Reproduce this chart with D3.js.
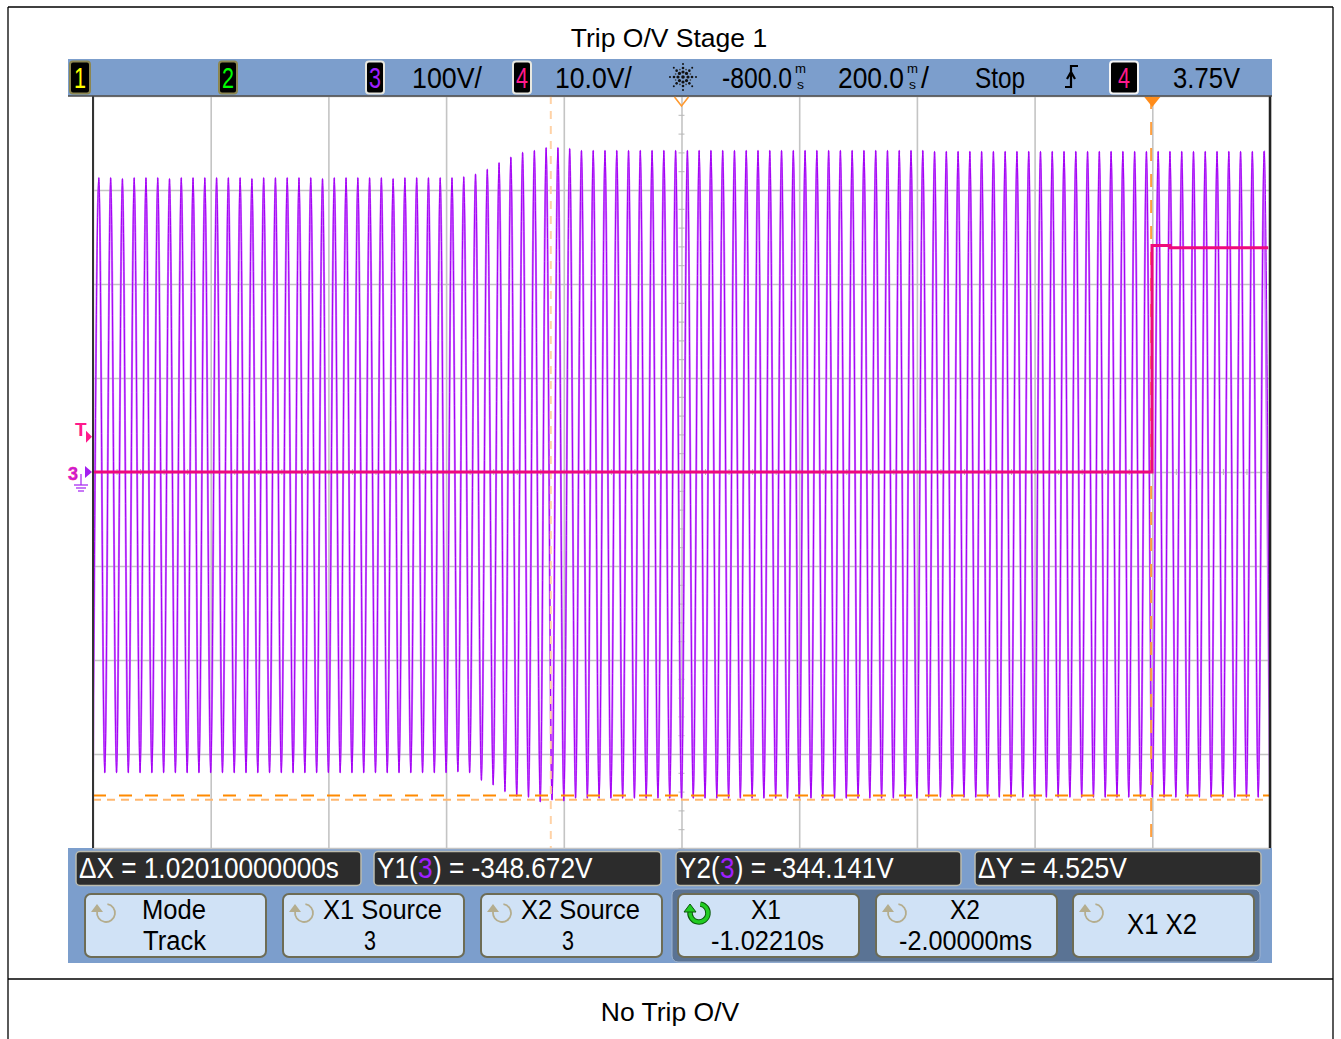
<!DOCTYPE html>
<html><head><meta charset="utf-8">
<script src="https://cdn.jsdelivr.net/npm/d3@7"></script>
<style>html,body{margin:0;padding:0;background:#fff;}svg{display:block;}</style>
</head><body>
<svg id="c" width="1341" height="1039"></svg>
<script>
// ================= DATA =================
const chartTitle = "Trip O/V Stage 1";
const chartCaption = "No Trip O/V";

const timeDomainMs = [-1800, 200];   // 200 ms/div, centre -800 ms
const ch3DomainV = [-400, 400];      // 100 V/div
const ch4DomainV = [-40, 40];        // 10 V/div
const xGridMs = [-1800,-1600,-1400,-1200,-1000,-800,-600,-400,-200,0,200];
const yGridV = [-400,-300,-200,-100,0,100,200,300,400];

// Channel 3: positive peaks of each 50 Hz cycle
const ch3PeakTimesMs = [
 -1790,-1770,-1750,-1730,-1710,-1690,-1670,-1650,-1630,-1610,
 -1590,-1570,-1550,-1530,-1510,-1490,-1470,-1450,-1430,-1410,
 -1390,-1370,-1350,-1330,-1310,-1290,-1270,-1250,-1230,-1210,
 -1190,-1170,-1150,-1130,-1110,-1090,-1070,-1050,-1030,-1010,
 -990,-970,-950,-930,-910,-890,-870,-850,-830,-810,
 -790,-770,-750,-730,-710,-690,-670,-650,-630,-610,
 -590,-570,-550,-530,-510,-490,-470,-450,-430,-410,
 -390,-370,-350,-330,-310,-290,-270,-250,-230,-210,
 -190,-170,-150,-130,-110,-90,-70,-50,-30,-10,
 10,30,50,70,90,110,130,150,170,190];
const ch3PeakV = [
 313,313,312,313,313,313,312,313,313,313,
 313,313,313,312,313,313,313,313,313,312,
 313,313,313,313,313,312,313,313,313,313,
 313,314,317,322,329,335,340,342,345,345,
 344,342,342,342,342,342,342,342,342,342,
 342,342,342,342,342,342,342,342,342,342,
 342,342,342,342,342,342,342,342,342,342,
 342,341,341,341,341,341,341,341,341,341,
 341,341,341,341,341,341,341,341,341,341,
 341,341,341,341,341,341,341,341,341,341];
// Channel 3: negative peaks (troughs)
const ch3TroughTimesMs = [
 -1800,-1780,-1760,-1740,-1720,-1700,-1680,-1660,-1640,-1620,
 -1600,-1580,-1560,-1540,-1520,-1500,-1480,-1460,-1440,-1420,
 -1400,-1380,-1360,-1340,-1320,-1300,-1280,-1260,-1240,-1220,
 -1200,-1180,-1160,-1140,-1120,-1100,-1080,-1060,-1040,-1020,
 -1000,-980,-960,-940,-920,-900,-880,-860,-840,-820,
 -800,-780,-760,-740,-720,-700,-680,-660,-640,-620,
 -600,-580,-560,-540,-520,-500,-480,-460,-440,-420,
 -400,-380,-360,-340,-320,-300,-280,-260,-240,-220,
 -200,-180,-160,-140,-120,-100,-80,-60,-40,-20,
 0,20,40,60,80,100,120,140,160,180,200];
const ch3TroughV = [
 -320,-320,-320,-320,-320,-320,-320,-320,-320,-320,
 -320,-320,-320,-320,-320,-320,-320,-320,-320,-320,
 -320,-320,-320,-320,-320,-320,-320,-320,-320,-320,
 -320,-319,-320,-328,-333,-340,-345,-346,-351,-349,
 -350,-347,-347,-347,-347,-347,-347,-347,-347,-347,
 -347,-347,-347,-347,-347,-347,-347,-347,-347,-347,
 -347,-347,-347,-347,-347,-347,-347,-347,-347,-347,
 -347,-346,-346,-346,-346,-346,-346,-346,-346,-346,
 -346,-346,-346,-346,-346,-346,-346,-346,-346,-346,
 -346,-346,-346,-346,-346,-346,-346,-346,-346,-346,-346];

// Channel 4 (trip signal)
const ch4TimesMs = [-1800, -0.5, -0.5, 30, 30, 197];
const ch4V = [0, 0, 24.1, 24.1, 23.85, 23.85];

// Cursors / trigger
const cursorX1Ms = -1022.1, cursorX2Ms = -2.0;
const cursorY1V = -348.672, cursorY2V = -344.141;
const trigLevelV = 3.75, delayMs = -800, trigTimeMs = 0;

// Readout texts
const channelNums = ["1","2","3","4"];
const chanScaleLabels = ["100V/", "10.0V/"];
const timeLabels = ["-800.0", "200.0"];
const runState = "Stop";
const trigLabel = "3.75V";
const readouts = [
  ["\u0394X = 1.02010000000s"],
  ["Y1(", "3", " ) = -348.672V"],
  ["Y2(", "3", " ) = -344.141V"],
  ["\u0394Y = 4.525V"]];
const softkeys = [["Mode","Track"],["X1 Source","3"],["X2 Source","3"],["X1","-1.02210s"],["X2","-2.00000ms"],["X1 X2"]];

// ================= DRAW =================
const W = 1341, H = 1039;
const svg = d3.select("#c");
const docFont = "'Liberation Sans', Arial, sans-serif";
const scopeFont = "'Liberation Sans Narrow','Liberation Sans', Arial, sans-serif";
svg.append("rect").attr("width", W).attr("height", H).attr("fill", "#fff");

// document table frame
const docG = svg.append("g").attr("stroke", "#000").attr("stroke-width", 1.3);
docG.append("line").attr("x1", 8).attr("y1", 7).attr("x2", 1333).attr("y2", 7);
docG.append("line").attr("x1", 8).attr("y1", 7).attr("x2", 8).attr("y2", H);
docG.append("line").attr("x1", 1333).attr("y1", 7).attr("x2", 1333).attr("y2", H);
docG.append("line").attr("x1", 8).attr("y1", 979).attr("x2", 1333).attr("y2", 979);
svg.append("text").attr("x", 669).attr("y", 47).attr("text-anchor", "middle")
  .attr("font-family", docFont).attr("font-size", 26.5).text(chartTitle);
svg.append("text").attr("x", 670).attr("y", 1021).attr("text-anchor", "middle")
  .attr("font-family", docFont).attr("font-size", 26.5).text(chartCaption);

// scope background
const BLUE = "#7c9ecc";
svg.append("rect").attr("x", 68).attr("y", 59).attr("width", 1204).attr("height", 904).attr("fill", BLUE);
const P = {l: 93, r: 1270, t: 96, b: 848};
svg.append("rect").attr("x", 68).attr("y", P.t).attr("width", P.r - 68 + 2).attr("height", P.b - P.t).attr("fill", "#fff");

const xS = d3.scaleLinear().domain(timeDomainMs).range([P.l, P.r]);
const y3 = d3.scaleLinear().domain(ch3DomainV).range([P.b, P.t]);
const y4 = d3.scaleLinear().domain(ch4DomainV).range([P.b, P.t]);

// grid through axes
const gx = svg.append("g").attr("transform", `translate(0,${P.b})`)
  .call(d3.axisBottom(xS).tickValues(xGridMs).tickSize(-(P.b - P.t)).tickFormat(""));
gx.select(".domain").remove();
gx.selectAll("line").attr("stroke", "#c4c4c4").attr("stroke-width", 1.6);
const gy = svg.append("g").attr("transform", `translate(${P.l},0)`)
  .call(d3.axisLeft(y3).tickValues(yGridV).tickSize(-(P.r - P.l)).tickFormat(""));
gy.select(".domain").remove();
gy.selectAll("line").attr("stroke", "#c4c4c4").attr("stroke-width", 1.6);

// minor ticks on centre lines
const minorV = d3.range(-400, 401, 20);
const minorT = d3.range(-1800, 201, 40);
const cyAx = svg.append("g").attr("transform", `translate(${xS(delayMs) + 3},0)`)
  .call(d3.axisLeft(y3).tickValues(minorV).tickSize(6).tickFormat(""));
cyAx.select(".domain").remove(); cyAx.selectAll("line").attr("stroke", "#b8b8b8");
const cxAx = svg.append("g").attr("transform", `translate(0,${y3(0) + 3})`)
  .call(d3.axisTop(xS).tickValues(minorT).tickSize(6).tickFormat(""));
cxAx.select(".domain").remove(); cxAx.selectAll("line").attr("stroke", "#b8b8b8");

// clip
svg.append("clipPath").attr("id", "pc").append("rect")
  .attr("x", P.l).attr("y", P.t).attr("width", P.r - P.l).attr("height", P.b - P.t);

// channel 3 trace
const ch3Pts = ch3PeakTimesMs.map((t, i) => ({t, v: ch3PeakV[i]}))
  .concat(ch3TroughTimesMs.map((t, i) => ({t, v: ch3TroughV[i]})))
  .sort((a, b) => a.t - b.t);
const line3 = d3.line().x(d => xS(d.t)).y(d => y3(d.v)).curve(d3.curveMonotoneX);
const trG = svg.append("g").attr("clip-path", "url(#pc)");
trG.append("path").datum(ch3Pts).attr("d", line3).attr("fill", "none")
  .attr("stroke", "#cf72ff").attr("stroke-width", 2.1);
trG.append("path").datum(ch3Pts).attr("d", line3).attr("fill", "none")
  .attr("stroke", "#a300f5").attr("stroke-width", 1);

// cursors
const curG = svg.append("g").attr("clip-path", "url(#pc)").attr("stroke-width", 2).attr("fill", "none");
curG.append("line").attr("x1", xS(cursorX1Ms)).attr("x2", xS(cursorX1Ms)).attr("y1", P.t).attr("y2", P.b)
  .attr("stroke", "#ffd2a6").attr("stroke-dasharray", "8,7");
curG.append("line").attr("x1", xS(cursorX2Ms)).attr("x2", xS(cursorX2Ms)).attr("y1", P.t).attr("y2", P.b)
  .attr("stroke", "#ffa040").attr("stroke-dasharray", "13,13");
curG.append("line").attr("x1", P.l).attr("x2", P.r).attr("y1", y3(cursorY1V)).attr("y2", y3(cursorY1V))
  .attr("stroke", "#ffb870").attr("stroke-dasharray", "8,6");
curG.append("line").attr("x1", P.l).attr("x2", P.r).attr("y1", y3(cursorY2V)).attr("y2", y3(cursorY2V))
  .attr("stroke", "#ff8a00").attr("stroke-dasharray", "13,13");

// channel 4 trace
const ch4Pts = ch4TimesMs.map((t, i) => ({t, v: ch4V[i]}));
const line4 = d3.line().x(d => xS(d.t)).y(d => y4(d.v));
svg.append("g").attr("clip-path", "url(#pc)").append("path").datum(ch4Pts).attr("d", line4)
  .attr("fill", "none").attr("stroke", "#ee0a7c").attr("stroke-width", 3);

// plot borders
svg.append("line").attr("x1", P.l).attr("x2", P.l).attr("y1", P.t).attr("y2", P.b).attr("stroke", "#333").attr("stroke-width", 2);
svg.append("line").attr("x1", P.r).attr("x2", P.r).attr("y1", P.t).attr("y2", P.b).attr("stroke", "#222").attr("stroke-width", 2.5);
svg.append("line").attr("x1", 68).attr("x2", 1272).attr("y1", P.t).attr("y2", P.t).attr("stroke", "#4a4a4a").attr("stroke-width", 1.5);

// top markers
const xd = xS(delayMs), xt = xS(trigTimeMs);
svg.append("path").attr("d", `M${xd - 7},${P.t + 1}L${xd},${P.t + 10}L${xd + 7},${P.t + 1}`)
  .attr("fill", "none").attr("stroke", "#ff9a30").attr("stroke-width", 1.6);
svg.append("path").attr("d", `M${xt - 8},${P.t + 1}L${xt + 8},${P.t + 1}L${xt},${P.t + 11}Z`).attr("fill", "#ff8c1a");

// left markers
const PINK = "#ff1a8c", PURP = "#a41ef0";
const yT = y4(trigLevelV);
svg.append("text").attr("x", 75).attr("y", yT - 1).attr("font-family", docFont).attr("font-weight", "bold")
  .attr("font-size", 19).attr("fill", PINK).text("T");
svg.append("path").attr("d", `M86,${yT - 6}L92,${yT}L86,${yT + 6}Z`).attr("fill", PINK);
const y0 = y3(0);
svg.append("text").attr("x", 68).attr("y", y0 + 8).attr("font-family", docFont).attr("font-weight", "bold")
  .attr("font-size", 18).attr("fill", "#c01ce0").attr("stroke", PINK).attr("stroke-width", 0.5).text("3");
svg.append("path").attr("d", `M85,${y0 - 6}L92,${y0}L85,${y0 + 6}Z`).attr("fill", PURP);
const gnd = svg.append("g").attr("stroke", PURP).attr("stroke-width", 1.2);
gnd.append("line").attr("x1", 81).attr("x2", 81).attr("y1", y0 + 2).attr("y2", y0 + 13);
gnd.append("line").attr("x1", 74).attr("x2", 88).attr("y1", y0 + 13).attr("y2", y0 + 13);
gnd.append("line").attr("x1", 76).attr("x2", 86).attr("y1", y0 + 16).attr("y2", y0 + 16);
gnd.append("line").attr("x1", 78).attr("x2", 84).attr("y1", y0 + 19).attr("y2", y0 + 19);

// ---------- text helpers ----------
function stext(g, str, xx, yy, size, width, fill, anchor) {
  const t = g.append("text").attr("x", xx).attr("y", yy).attr("font-size", size)
    .attr("font-family", scopeFont).attr("fill", fill || "#000");
  if (anchor) t.attr("text-anchor", anchor);
  if (width) t.attr("textLength", width).attr("lengthAdjust", "spacingAndGlyphs");
  t.text(str);
  return t;
}
// text condensed with a horizontal scale so that its real box has the wanted width
function fitText(g, str, xx, yy, size, width, fill) {
  const t = g.append("text").attr("x", 0).attr("y", 0).attr("font-size", size)
    .attr("font-family", scopeFont).attr("fill", fill || "#000").text(str);
  const len = t.node().getComputedTextLength() || width;
  t.attr("transform", `translate(${xx},${yy}) scale(${width / len},1)`);
  return t;
}
// several coloured pieces sharing one horizontal scale, laid side by side
function fitPieces(g, pieces, colors, xx, yy, size, width) {
  const els = pieces.map((s, i) => g.append("text").attr("x", 0).attr("y", 0).attr("font-size", size)
    .attr("font-family", scopeFont).attr("fill", colors[i]).text(s));
  const lens = els.map(e => e.node().getComputedTextLength());
  const total = d3.sum(lens) || width;
  const k = width / total;
  let cx0 = xx;
  els.forEach((e, i) => {
    e.attr("transform", `translate(${cx0},${yy}) scale(${k},1)`);
    cx0 += lens[i] * k + 0.3;
  });
}
function timeText(g, num, xx, w, slash) {
  fitText(g, num, xx, 88, 30, w);
  stext(g, "m", xx + w + 3, 73, 12, 11);
  stext(g, "s", xx + w + 5, 88.5, 12, 7);
  if (slash) fitText(g, "/", xx + w + 17, 88, 30, 8);
}

// ---------- top status bar ----------
const barG = svg.append("g");
const chanBoxes = [
  {x: 70, w: 20, col: "#ffff00", border: "#8c8650", n: channelNums[0]},
  {x: 219, w: 18, col: "#00ff00", border: "#8c8650", n: channelNums[1]},
  {x: 366, w: 18, col: "#a020ff", border: "#e8e8e0", n: channelNums[2]},
  {x: 513, w: 18, col: "#ff1a8c", border: "#e8e8e0", n: channelNums[3]},
  {x: 1110, w: 28, col: "#ff1a8c", border: "#f4f4f4", n: channelNums[3]}];
chanBoxes.forEach(b => {
  barG.append("rect").attr("x", b.x).attr("y", 61.5).attr("width", b.w).attr("height", 32).attr("rx", 3)
    .attr("fill", "#000").attr("stroke", b.border).attr("stroke-width", 2);
  stext(barG, b.n, b.x + b.w / 2, 88, 29, 12, b.col, "middle");
});
stext(barG, chanScaleLabels[0], 412, 88, 30, 70);
stext(barG, chanScaleLabels[1], 555, 88, 30, 77);
// starburst
const sb = barG.append("g");
for (let k = 0; k < 8; k++) {
  const a = k * Math.PI / 4;
  [[5, 1.6], [9, 1.3], [13, 1.0]].forEach(([r, s]) => {
    sb.append("circle").attr("cx", 683 + r * Math.cos(a)).attr("cy", 77 + r * Math.sin(a)).attr("r", s).attr("fill", "#111");
  });
}
for (let k = 0; k < 8; k++) {
  const a = k * Math.PI / 4 + Math.PI / 8;
  sb.append("circle").attr("cx", 683 + 8 * Math.cos(a)).attr("cy", 77 + 8 * Math.sin(a)).attr("r", 0.8).attr("fill", "#333");
}
sb.append("circle").attr("cx", 683).attr("cy", 77).attr("r", 1.8).attr("fill", "#111");
timeText(barG, timeLabels[0], 722, 70, false);
timeText(barG, timeLabels[1], 838, 66, true);
stext(barG, runState, 975, 88, 30, 50);
barG.append("path").attr("d", "M1065,87H1071V66H1078M1067,79L1071,72L1075,79")
  .attr("fill", "none").attr("stroke", "#000").attr("stroke-width", 2.2);
stext(barG, trigLabel, 1173, 88, 30, 67);

// ---------- bottom readouts ----------
const bot = svg.append("g");
const roBoxes = [{x: 76, w: 285, tw: 260}, {x: 374, w: 287, tw: 215}, {x: 676, w: 285, tw: 214}, {x: 975, w: 286, tw: 149}];
readouts.forEach((pieces, i) => {
  const b = roBoxes[i];
  bot.append("rect").attr("x", b.x).attr("y", 851.5).attr("width", b.w).attr("height", 34).attr("rx", 4)
    .attr("fill", "#2c2c2c").attr("stroke", "#bcbcae").attr("stroke-width", 1.5);
  const cols = pieces.map((s, j) => (pieces.length === 3 && j === 1) ? "#a020ff" : "#fff");
  fitPieces(bot, pieces, cols, b.x + 3, 878, 29, b.tw);
});
// frame around active softkeys
bot.append("rect").attr("x", 672).attr("y", 889).attr("width", 588).attr("height", 73).attr("rx", 6)
  .attr("fill", "#5a7394").attr("stroke", "#9fb4cf").attr("stroke-width", 1);
const btnX = [85, 283, 481, 678, 876, 1073];
const btnText = [
  [[142, 919, 64], [143, 950, 63]],
  [[323, 919, 119], [364, 950, 12]],
  [[521, 919, 119], [562, 950, 12]],
  [[751, 919, 30], [711, 950, 113]],
  [[950, 919, 30], [899, 950, 133]],
  [[1127, 934, 70]]];
function icon(cx0, cy0, green) {
  const p = d3.path();
  p.arc(cx0, cy0, 9, -Math.PI * 0.45, Math.PI * 1.05, false);
  const col = green ? "#22cc22" : "#b4ad8e";
  if (green) {
    bot.append("path").attr("d", p.toString()).attr("fill", "none").attr("stroke", "#0a5a0a").attr("stroke-width", 5.5);
  }
  bot.append("path").attr("d", p.toString()).attr("fill", "none").attr("stroke", col).attr("stroke-width", green ? 3.5 : 1.8);
  bot.append("path").attr("d", `M${cx0 - 15},${cy0 - 1}L${cx0 - 9},${cy0 - 9}L${cx0 - 3},${cy0 - 1}Z`)
    .attr("fill", col).attr("stroke", green ? "#0a5a0a" : "none").attr("stroke-width", 1);
}
softkeys.forEach((lines, i) => {
  bot.append("rect").attr("x", btnX[i]).attr("y", 894).attr("width", 181).attr("height", 63).attr("rx", 6)
    .attr("fill", "#d0e2f6").attr("stroke", "#6d6c55").attr("stroke-width", 2);
  icon(btnX[i] + 21, 913, i === 3);
  lines.forEach((s, j) => {
    const [tx, ty, tw] = btnText[i][j];
    stext(bot, s, tx, ty, lines.length > 1 ? 27 : 29, tw, "#000");
  });
});
</script>
</body></html>
